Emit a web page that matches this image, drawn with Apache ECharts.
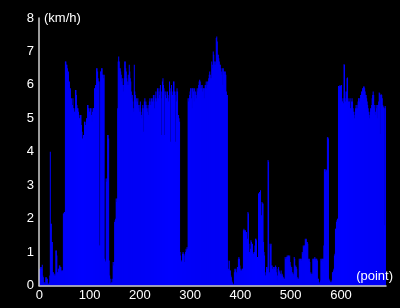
<!DOCTYPE html>
<html>
<head>
<meta charset="utf-8">
<script src="https://cdn.jsdelivr.net/npm/echarts@6/dist/echarts.min.js"></script>
<style>
html,body{margin:0;padding:0;background:#000;}
#chart{width:400px;height:308px;}
</style>
</head>
<body>
<div id="chart"></div>
<script>
// speed (km/h) per point, index 0..689
const speed = [
0.45,0.5,0.5,0.55,0.55,0.5,0.62,0.3,0.25,0.1,0.05,0.1,0.05,0.25,0.25,0.2,0.2,0.05,0.05,0.05,0.1,0.3,
4.0,1.85,1.85,1.3,1.3,0.4,0.4,0.3,0.3,0.35,0.3,1.05,1.05,0.9,0.4,0.4,0.5,0.5,0.6,
0.6,0.55,0.55,0.45,0.4,0.45,0.45,2.15,2.15,2.2,2.2,6.7,6.7,6.6,6.6,6.5,6.3,6.4,6.0,6.1,
5.8,5.9,5.5,5.6,5.3,5.4,5.6,5.3,5.3,5.2,5.2,5.85,5.85,5.7,5.4,5.3,5.3,5.2,5.1,5.0,
5.0,5.1,5.1,4.8,4.6,4.4,4.3,4.5,4.5,4.9,4.9,4.8,4.8,5.0,5.0,5.4,5.4,5.3,5.3,5.2,
5.2,5.3,5.3,5.1,4.9,5.2,5.3,5.3,5.3,5.9,5.9,6.0,6.0,6.5,6.5,6.4,6.2,6.1,6.1,1.2,
1.2,6.4,6.4,6.5,6.5,6.3,6.3,6.2,6.3,0.8,0.75,0.7,3.2,3.1,3.2,4.5,4.5,4.4,0.75,0.3,
0.2,0.06,0.06,0.1,0.2,0.1,0.7,0.6,0.7,1.9,1.95,2.0,2.6,2.5,2.6,5.3,6.7,6.85,6.7,6.5,
6.5,6.4,6.3,6.1,6.2,6.0,5.8,6.0,6.2,6.7,6.7,6.5,6.4,6.2,6.0,6.1,6.3,6.0,6.6,6.4,
6.2,6.1,5.8,5.6,5.7,5.5,5.3,5.2,6.6,5.8,5.7,5.5,5.6,5.4,5.5,5.6,5.4,5.3,5.2,5.4,
5.5,5.2,5.1,5.0,5.3,5.4,4.6,5.3,5.5,5.6,5.4,5.5,5.3,5.4,5.2,5.3,5.1,5.4,5.5,
5.6,5.4,5.5,5.6,5.4,5.5,5.6,5.7,5.5,5.3,5.7,5.6,5.8,5.5,5.6,5.9,5.8,5.6,5.9,5.7,
5.8,6.0,5.6,4.5,5.8,6.1,6.2,6.0,5.9,4.5,5.8,5.7,5.8,5.6,5.6,5.8,5.7,5.5,5.6,6.1,
5.8,4.3,5.9,6.0,5.8,5.7,5.6,6.1,6.1,5.8,5.7,4.3,5.8,5.5,5.9,5.8,5.0,5.1,5.0,4.9,
1.0,0.9,0.75,0.7,0.75,0.95,1.0,0.95,0.9,0.7,0.95,1.0,1.1,1.05,1.15,1.1,5.6,5.5,5.6,5.7,
5.8,5.9,5.9,5.6,5.3,5.9,5.9,5.8,5.5,5.9,5.7,5.8,5.7,5.6,5.9,5.8,5.9,6.0,6.1,6.15,
6.1,5.9,6.0,5.9,6.0,5.8,5.9,5.9,5.6,5.9,6.0,6.0,6.1,5.9,6.0,6.1,6.1,6.2,6.3,6.4,
6.3,6.2,6.2,6.7,6.6,6.5,7.0,6.9,6.7,6.6,6.7,6.6,7.4,7.45,7.3,6.9,6.9,6.8,6.7,6.6,
6.6,6.5,6.4,6.3,6.5,6.0,6.5,6.4,6.4,6.3,6.4,6.3,5.8,5.7,5.7,0.75,0.5,0.45,0.74,0.45,
0.45,0.3,0.25,0.15,0.1,0.05,0.02,0.05,0.4,0.5,0.45,0.5,0.4,0.3,0.55,0.55,0.8,0.85,0.8,
0.6,0.45,0.5,0.45,0.45,0.5,0.5,1.65,1.7,1.65,1.6,1.65,1.5,1.6,1.3,1.4,2.2,2.15,1.25,1.0,
0.95,1.1,1.35,1.3,1.2,1.25,1.0,0.95,0.95,1.0,1.2,1.4,1.4,1.35,0.8,0.85,0.85,2.75,2.75,2.8,
2.8,2.85,2.0,2.1,2.5,2.45,2.45,1.3,1.0,0.9,0.4,0.3,0.3,0.55,0.55,0.5,3.75,3.7,0.35,0.4,
1.25,1.2,1.25,0.6,0.6,0.5,0.45,0.55,0.55,0.5,0.55,0.6,0.55,0.4,0.15,0.3,0.5,0.55,0.45,0.4,
0.3,0.35,0.45,0.3,0.35,0.3,0.2,0.25,0.2,0.2,0.85,0.8,0.8,0.85,0.9,0.85,0.9,0.9,0.85,0.9,
0.7,0.6,0.5,0.55,0.35,0.4,0.35,0.3,0.85,0.8,0.55,0.6,0.55,0.5,0.2,0.25,0.2,0.2,0.8,0.75,
0.8,0.8,0.75,0.8,1.0,0.95,1.2,1.15,1.2,1.2,1.4,1.35,1.4,1.3,1.3,1.25,0.8,0.75,0.8,0.7,
0.35,0.4,0.35,0.3,0.35,0.8,0.8,0.75,0.8,0.85,0.8,0.75,0.8,0.8,0.75,0.2,0.2,0.1,0.05,0.1,
0.15,0.8,0.75,0.8,0.8,0.7,0.8,1.2,3.48,3.48,3.4,3.48,3.45,0.9,4.43,4.43,4.4,0.2,0.15,
0.15,0.1,0.1,0.1,0.15,0.4,0.4,0.45,0.5,0.9,0.95,1.7,1.7,1.9,1.95,2.0,2.0,5.97,5.97,5.95,
6.0,5.97,5.95,6.0,5.5,5.5,5.6,5.45,6.62,6.6,5.8,5.5,5.6,5.8,6.2,6.22,5.6,5.5,5.4,5.5,
5.6,5.3,5.3,5.5,5.6,5.5,5.3,5.2,5.1,5.0,5.2,5.3,5.4,5.3,5.4,5.3,5.5,5.6,5.6,5.5,
5.6,5.7,5.7,5.8,5.8,5.9,5.9,5.95,5.95,5.9,5.8,5.7,5.7,5.6,5.5,5.4,5.3,5.2,5.1,5.0,
5.2,5.3,5.3,5.4,5.6,5.7,5.8,5.7,5.3,5.4,5.1,5.2,5.4,5.3,5.0,5.4,5.4,5.5,5.77,5.75,
4.53,5.7,5.72,5.7,5.6,5.4,5.3,5.35,5.3,1.8,5.37,5.3
];
const xTickLabels = ['0','100','200','300','400','500','600'];
const yTickLabels = ['0','1','2','3','4','5','6','7','8'];
const pointIndex = speed.map((_, i) => String(i));

const chart = echarts.init(document.getElementById('chart'), null, {renderer: 'canvas'});
const font = 'Liberation Sans, Arial, Helvetica, sans-serif';
chart.setOption({
  backgroundColor: '#000',
  animation: false,
  grid: {left: 39, right: 14, top: 18, bottom: 22.5, containLabel: false},
  xAxis: {
    type: 'category',
    z: 10,
    data: pointIndex,
    boundaryGap: true,
    name: '(point)',
    nameLocation: 'end',
    nameGap: 7,
    nameTextStyle: {color: '#fff', fontSize: 13, fontFamily: font, align: 'right', verticalAlign: 'bottom', padding: [0, 0, 3, 0]},
    axisLine: {show: true, lineStyle: {color: '#d0d0d0', width: 1.5}},
    axisTick: {show: false},
    axisLabel: {
      color: '#fff', fontSize: 13, fontFamily: font, margin: 3,
      interval: (idx) => xTickLabels.indexOf(String(idx)) >= 0,
      formatter: (v) => xTickLabels.indexOf(v) >= 0 ? v : ''
    },
    splitLine: {show: false}
  },
  yAxis: {
    type: 'value',
    z: 10,
    min: 0, max: 8, interval: 1,
    name: '(km/h)',
    nameLocation: 'end',
    nameGap: 0,
    nameTextStyle: {color: '#fff', fontSize: 13, fontFamily: font, align: 'left', verticalAlign: 'middle', padding: [0, 0, 0, 5]},
    axisLine: {show: true, lineStyle: {color: '#d0d0d0', width: 1.5}},
    axisTick: {show: false},
    axisLabel: {color: '#fff', fontSize: 13, fontFamily: font, margin: 5,
      formatter: (v) => yTickLabels[v] !== undefined ? yTickLabels[v] : ''},
    splitLine: {show: false}
  },
  series: [{
    type: 'bar',
    data: speed,
    barCategoryGap: '0%',
    barWidth: '100%',
    itemStyle: {color: '#0000ff'},
    emphasis: {disabled: true}
  }]
});
</script>
</body>
</html>
